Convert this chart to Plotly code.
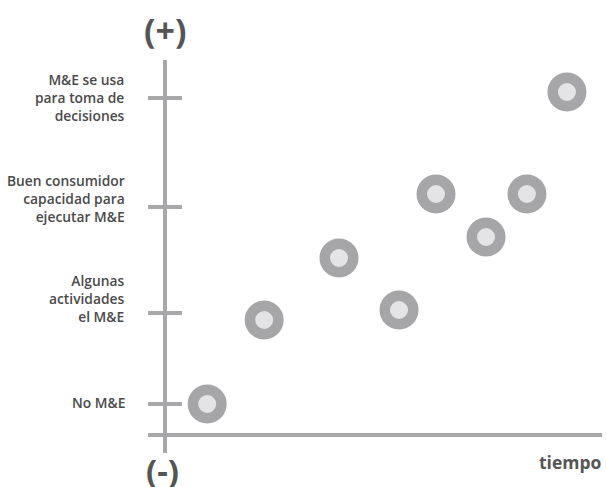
import plotly.graph_objects as go

# data: time (arbitrary units) vs M&E maturity level
tiempo = [0.97, 2.28, 4.0, 5.38, 6.23, 7.38, 8.32, 9.24]
nivel = [0.31, 1.15, 1.77, 1.25, 2.41, 1.98, 2.41, 3.43]

# y-axis tick levels and their labels
tick_levels = [0.31, 1.22, 2.28, 3.37]
label_levels = [0.33, 1.37, 2.37, 3.38]
tick_labels = [
    "No M&E",
    "Algunas<br>actividades<br>el M&E",
    "Buen consumidor<br>capacidad para<br>ejecutar M&E",
    "M&E se usa<br>para toma de<br>decisiones",
]

AXIS_GRAY = "#a8a8aa"
TEXT_GRAY = "#4a4a4a"
FONT = "Open Sans"

fig = go.Figure()

fig.add_trace(go.Scatter(
    x=tiempo, y=nivel, mode="markers",
    marker=dict(size=28.5, color="#e4e4e6",
                line=dict(color="#a6a6a8", width=10.5)),
    hoverinfo="skip", showlegend=False,
))

# axis lines and ticks
shapes = [
    dict(type="line", xref="x", yref="y", x0=0, x1=0, y0=-0.18, y1=3.75,
         line=dict(color=AXIS_GRAY, width=4), layer="below"),
    dict(type="line", xref="x", yref="y", x0=-0.39, x1=10.05, y0=0, y1=0,
         line=dict(color=AXIS_GRAY, width=4), layer="below"),
]
for t in tick_levels:
    shapes.append(dict(type="line", xref="x", yref="y", x0=-0.39, x1=0.39,
                       y0=t, y1=t, line=dict(color=AXIS_GRAY, width=4),
                       layer="below"))

annotations = []
for lab, lv in zip(tick_labels, label_levels):
    annotations.append(dict(
        x=-0.874, y=lv, xref="x", yref="y", text=lab, showarrow=False,
        xanchor="right", yanchor="middle", align="right",
        font=dict(family=FONT, size=13.8, color=TEXT_GRAY, weight=600),
    ))

annotations += [
    dict(x=0, y=4.05, xref="x", yref="y", text="(+)", showarrow=False,
         xanchor="center", yanchor="middle",
         font=dict(family=FONT, size=34, color="#555555", weight="bold")),
    dict(x=-0.05, y=-0.35, xref="x", yref="y", text="(-)", showarrow=False,
         xanchor="center", yanchor="middle",
         font=dict(family=FONT, size=33, color="#555555", weight="bold")),
    dict(x=10.09, y=-0.27, xref="x", yref="y", text="tiempo", showarrow=False,
         xanchor="right", yanchor="middle",
         font=dict(family=FONT, size=17.5, color="#555555", weight="bold")),
]

fig.update_layout(
    width=607, height=487,
    margin=dict(l=0, r=0, t=0, b=0),
    paper_bgcolor="white", plot_bgcolor="white",
    xaxis=dict(range=[-3.793, 10.161], visible=False, fixedrange=True),
    yaxis=dict(range=[-0.52, 4.35], visible=False, fixedrange=True),
    shapes=shapes, annotations=annotations,
)

# drop the default body margin so the figure fills the window exactly
fig.write_html("out.html",
               config={"displayModeBar": False},
               post_script="document.body.style.margin='0';"
                           "document.body.style.overflow='hidden';")
